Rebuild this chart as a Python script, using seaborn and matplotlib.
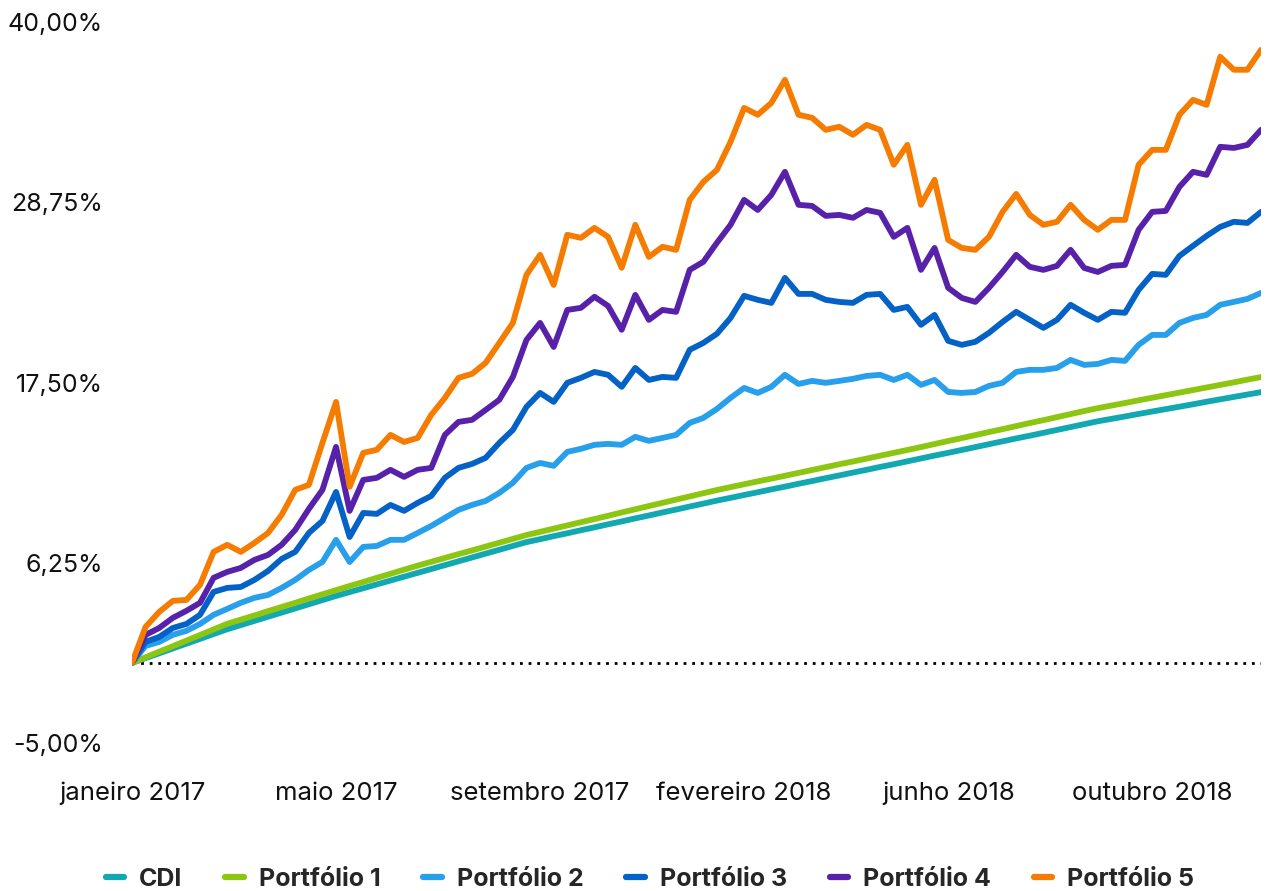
import pandas as pd
import matplotlib.pyplot as plt
import seaborn as sns

# Rentabilidade acumulada (%)
mes_labels = ['janeiro 2017', 'maio 2017', 'setembro 2017',
              'fevereiro 2018', 'junho 2018', 'outubro 2018']
mes_pos = [0, 15, 30, 45, 60, 75]

cdi = [0.00, 0.30, 0.60, 0.90, 1.20, 1.50, 1.80, 2.10, 2.36, 2.62,
       2.88, 3.14, 3.40, 3.66, 3.92, 4.18, 4.42, 4.66, 4.90, 5.14,
       5.38, 5.62, 5.86, 6.10, 6.34, 6.58, 6.82, 7.06, 7.30, 7.54,
       7.72, 7.91, 8.09, 8.28, 8.46, 8.65, 8.83, 9.02, 9.20, 9.39,
       9.57, 9.76, 9.94, 10.13, 10.30, 10.48, 10.65, 10.83, 11.00, 11.18,
       11.35, 11.53, 11.70, 11.88, 12.05, 12.23, 12.40, 12.58, 12.76, 12.94,
       13.11, 13.29, 13.47, 13.65, 13.83, 14.01, 14.18, 14.36, 14.54, 14.72,
       14.90, 15.08, 15.23, 15.38, 15.54, 15.69, 15.84, 15.99, 16.14, 16.30,
       16.45, 16.60, 16.75, 16.90]

port1 = [0.00, 0.35, 0.70, 1.04, 1.39, 1.74, 2.09, 2.44, 2.70, 2.96,
         3.23, 3.49, 3.75, 4.02, 4.28, 4.54, 4.80, 5.05, 5.31, 5.56,
         5.82, 6.07, 6.31, 6.55, 6.79, 7.02, 7.26, 7.50, 7.74, 7.98,
         8.18, 8.38, 8.58, 8.78, 8.98, 9.18, 9.39, 9.59, 9.79, 9.99,
         10.19, 10.39, 10.59, 10.79, 10.97, 11.15, 11.33, 11.50, 11.68, 11.86,
         12.04, 12.22, 12.40, 12.57, 12.75, 12.93, 13.11, 13.29, 13.47, 13.66,
         13.85, 14.03, 14.22, 14.41, 14.59, 14.78, 14.97, 15.15, 15.34, 15.53,
         15.72, 15.90, 16.06, 16.22, 16.39, 16.55, 16.71, 16.87, 17.03, 17.19,
         17.35, 17.51, 17.68, 17.84]

port2 = [0.00, 1.06, 1.31, 1.75, 2.00, 2.43, 3.00, 3.37, 3.75, 4.06,
         4.24, 4.68, 5.18, 5.80, 6.30, 7.68, 6.30, 7.24, 7.30, 7.68,
         7.68, 8.11, 8.55, 9.05, 9.55, 9.86, 10.11, 10.61, 11.24, 12.17,
         12.48, 12.30, 13.17, 13.36, 13.61, 13.67, 13.61, 14.11, 13.86, 14.04,
         14.23, 14.98, 15.29, 15.85, 16.54, 17.16, 16.85, 17.23, 17.98, 17.41,
         17.60, 17.48, 17.60, 17.73, 17.91, 17.98, 17.66, 17.98, 17.35, 17.66,
         16.91, 16.85, 16.91, 17.29, 17.48, 18.16, 18.29, 18.29, 18.41, 18.91,
         18.60, 18.66, 18.91, 18.85, 19.85, 20.47, 20.47, 21.22, 21.53, 21.72,
         22.35, 22.53, 22.72, 23.09]

port3 = [0.00, 1.31, 1.62, 2.18, 2.43, 3.00, 4.43, 4.68, 4.74, 5.18,
         5.74, 6.49, 6.93, 8.11, 8.86, 10.67, 7.86, 9.36, 9.30, 9.86,
         9.49, 9.99, 10.42, 11.55, 12.17, 12.42, 12.80, 13.73, 14.54, 15.98,
         16.85, 16.29, 17.48, 17.79, 18.16, 17.98, 17.23, 18.41, 17.66, 17.85,
         17.79, 19.54, 19.97, 20.54, 21.53, 22.91, 22.66, 22.47, 24.03, 23.03,
         23.03, 22.66, 22.53, 22.47, 22.97, 23.03, 22.03, 22.22, 21.10, 21.72,
         20.10, 19.85, 20.04, 20.60, 21.28, 21.91, 21.41, 20.91, 21.41, 22.35,
         21.85, 21.41, 21.91, 21.85, 23.28, 24.28, 24.22, 25.40, 26.03, 26.65,
         27.21, 27.53, 27.46, 28.15]

port4 = [0.00, 1.75, 2.18, 2.81, 3.25, 3.75, 5.31, 5.68, 5.93, 6.43,
         6.74, 7.37, 8.30, 9.61, 10.80, 13.48, 9.49, 11.42, 11.55, 12.05,
         11.61, 12.05, 12.17, 14.23, 15.04, 15.17, 15.79, 16.42, 17.85, 20.16,
         21.22, 19.72, 22.03, 22.16, 22.85, 22.28, 20.79, 22.97, 21.41, 22.03,
         21.91, 24.53, 25.03, 26.22, 27.34, 28.90, 28.27, 29.21, 30.65, 28.59,
         28.52, 27.90, 27.96, 27.78, 28.27, 28.09, 26.59, 27.15, 24.53, 25.90,
         23.41, 22.78, 22.53, 23.41, 24.40, 25.47, 24.72, 24.53, 24.78, 25.78,
         24.65, 24.40, 24.78, 24.84, 27.03, 28.15, 28.21, 29.71, 30.65, 30.46,
         32.21, 32.14, 32.33, 33.27]

port5 = [0.00, 2.25, 3.18, 3.87, 3.93, 4.87, 6.93, 7.37, 6.93, 7.49,
         8.11, 9.24, 10.80, 11.11, 13.73, 16.29, 10.99, 13.11, 13.30, 14.23,
         13.79, 14.04, 15.48, 16.54, 17.79, 18.04, 18.73, 19.97, 21.22, 24.22,
         25.47, 23.59, 26.72, 26.53, 27.15, 26.59, 24.66, 27.34, 25.34, 25.97,
         25.78, 28.90, 30.02, 30.77, 32.52, 34.64, 34.21, 34.95, 36.39, 34.21,
         34.02, 33.27, 33.46, 32.96, 33.58, 33.27, 31.09, 32.33, 28.59, 30.15,
         26.40, 25.90, 25.78, 26.59, 28.15, 29.27, 27.96, 27.34, 27.53, 28.59,
         27.65, 27.03, 27.65, 27.65, 31.09, 32.02, 32.02, 34.21, 35.14, 34.83,
         37.83, 37.02, 37.02, 38.26]

series_nomes = ['CDI', 'Portfólio 1', 'Portfólio 2', 'Portfólio 3',
                'Portfólio 4', 'Portfólio 5']
cores = ['#12A8B2', '#8CC610', '#279FEA', '#0461C6', '#5722A9', '#F57C00']

y_ticks = [-5.0, 6.25, 17.5, 28.75, 40.0]
y_labels = ['-5,00%', '6,25%', '17,50%', '28,75%', '40,00%']

# tabela longa para o seaborn
df = pd.DataFrame({
    'CDI': cdi, 'Portfólio 1': port1, 'Portfólio 2': port2,
    'Portfólio 3': port3, 'Portfólio 4': port4, 'Portfólio 5': port5,
})
df['dia'] = range(len(df))
df_long = df.melt(id_vars='dia', var_name='serie', value_name='retorno')

sns.set_style('white')
plt.rcParams['font.family'] = ['Inter', 'DejaVu Sans']

fig = plt.figure(figsize=(12.68, 8.91), dpi=100)
ax = fig.add_axes([0.1041, 0.1661, 0.8904, 0.8092])

ax.axhline(0, color='black', linestyle=(0, (1, 2.1)), linewidth=2, zorder=1)

sns.lineplot(data=df_long, x='dia', y='retorno', hue='serie',
             hue_order=series_nomes, palette=cores, linewidth=4.2,
             ax=ax, zorder=2)

ax.set_xlim(0, len(df) - 1)
ax.set_ylim(-5, 40)
ax.set_yticks(y_ticks)
ax.set_yticklabels(y_labels)
ax.set_xticks(mes_pos)
ax.set_xticklabels(mes_labels)
ax.tick_params(axis='y', length=0, pad=21, labelsize=18, labelcolor='#111111')
ax.tick_params(axis='x', length=0, pad=28, labelsize=18.5, labelcolor='#111111')
ax.set_xlabel('')
ax.set_ylabel('')
sns.despine(ax=ax, left=True, bottom=True)

handles, labels = ax.get_legend_handles_labels()
ax.get_legend().remove()
for h in handles:
    h.set_linewidth(4.5)
fig.legend(handles, labels, loc='center', bbox_to_anchor=(0.5126, 0.013),
           ncol=6, frameon=False, handlelength=0.75, handletextpad=0.6,
           columnspacing=1.7, prop={'weight': 'bold', 'size': 18})

fig.savefig('out.png', dpi=100)
